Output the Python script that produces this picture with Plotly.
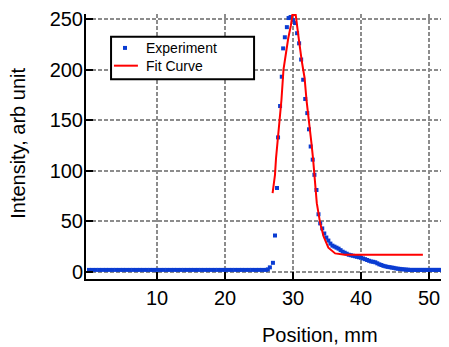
import plotly.graph_objects as go

# ---- data ----
base_x = [0.0, 0.5, 1.0, 1.5, 2.0, 2.5, 3.0, 3.5, 4.0, 4.5, 5.0, 5.5, 6.0, 6.5, 7.0, 7.5,
          8.0, 8.5, 9.0, 9.5, 10.0, 10.5, 11.0, 11.5, 12.0, 12.5, 13.0, 13.5, 14.0, 14.5,
          15.0, 15.5, 16.0, 16.5, 17.0, 17.5, 18.0, 18.5, 19.0, 19.5, 20.0, 20.5, 21.0,
          21.5, 22.0, 22.5, 23.0, 23.5, 24.0, 24.5, 25.0, 25.5, 26.0, 26.3, 26.6]
base_y = [2, 2, 2, 2, 2, 2, 2, 2, 2, 2, 2, 2, 2, 2, 2, 2,
          2, 2, 2, 2, 2, 2, 2, 2, 2, 2, 2, 2, 2, 2,
          2, 2, 2, 2, 2, 2, 2, 2, 2, 2, 2, 2, 2,
          2, 2, 2, 2, 2, 2, 2, 2, 2, 2, 2.5, 4.5]

peak_x = [27.05, 27.35, 27.65, 27.8, 28.1, 28.35, 28.55, 28.8, 29.1, 29.35, 29.65,
          30.0, 30.3, 30.6, 30.9, 31.2, 31.5, 31.8, 32.1, 32.35, 32.6, 32.9, 33.15,
          33.45, 33.75]
peak_y = [9, 36, 83, 133, 164, 193, 221, 232, 242, 251, 252,
          249, 246, 236, 226, 210, 190, 171, 157, 141, 124, 111, 96,
          81, 57]

tail_x = [34.0, 34.3, 34.6, 34.9, 35.2, 35.5, 35.8, 36.1, 36.4, 36.7, 37.0, 37.3,
          37.6, 37.9, 38.2, 38.5, 38.8, 39.1, 39.4, 39.7, 40.0, 40.3, 40.6, 40.9,
          41.2, 41.5, 41.8, 42.1, 42.4, 42.7, 43.0, 43.3, 43.6, 43.9, 44.2, 44.5,
          44.8, 45.1, 45.4, 45.7, 46.0, 46.3, 46.6, 46.9, 47.2, 47.5, 47.8, 48.1,
          48.4, 48.7, 49.0, 49.3, 49.6, 49.9, 50.2, 50.5, 50.8, 51.1, 51.4, 51.7,
          52.0, 52.3, 52.6, 52.9]
tail_y = [48, 43, 38, 34, 31, 28, 26, 25, 24, 23, 21.5, 20,
          19, 18, 17, 16.5, 16, 15.5, 15, 14.5, 14, 13.3, 12.6, 11.8,
          11, 10.3, 10, 9.5, 8.5, 7.5, 6.8, 6, 5.5, 5, 4.7, 4.3,
          4, 3.5, 3.2, 3, 2.7, 2.5, 2.3, 2.2, 2, 2, 2, 2,
          2, 2, 2, 2, 2, 2, 2, 2, 2, 2, 2, 2,
          2, 2, 2, 2]

fit_x = [27.0, 27.1, 27.35, 27.5, 27.8, 28.1, 28.3, 28.6, 28.9, 29.3, 29.7, 29.9,
         30.4, 30.6, 30.9, 31.3, 31.7, 32.0, 32.4, 32.7, 32.95, 33.2, 33.5, 34.0,
         34.5, 35.2, 36.2, 37.6, 49.1]
fit_y = [78, 83, 96, 112, 135, 151, 170, 200, 215, 231, 244, 254,
         254, 241, 228, 208, 192, 169, 148, 128, 112, 92, 68, 48,
         35, 24, 18.3, 17, 17]

exp_x = base_x + peak_x + tail_x
exp_y = base_y + peak_y + tail_y

x_ticks = [10, 20, 30, 40, 50]
y_ticks = [0, 50, 100, 150, 200, 250]
series_names = ["Experiment", "Fit Curve"]

FONT = "Liberation Sans, Arial, sans-serif"
BLUE = "#0a3cd2"
RED = "#ff0000"

fig = go.Figure()
fig.add_trace(go.Scatter(
    x=exp_x, y=exp_y, mode="markers", name=series_names[0], showlegend=False,
    marker=dict(symbol="square", size=4, color=BLUE, line=dict(width=0)),
))
fig.add_trace(go.Scatter(
    x=fit_x, y=fit_y, mode="lines", name=series_names[1], showlegend=False,
    line=dict(color=RED, width=2),
))

axis_common = dict(
    showline=True, linecolor="black", linewidth=2, mirror=False,
    ticks="inside", ticklen=7, tickwidth=2, tickcolor="black",
    showgrid=True, gridcolor="#8c8c8c", gridwidth=1.5, griddash="4px,2px",
    zeroline=False, ticklabeloverflow="allow",
    tickfont=dict(family=FONT, size=20, color="black"),
)

fig.update_xaxes(range=[-0.44, 52.94], tickvals=x_ticks,
                 ticktext=[str(v) for v in x_ticks],
                 **axis_common)
fig.update_yaxes(range=[-7, 255], tickvals=y_ticks,
                 ticktext=[str(v) for v in y_ticks], ticklabelstandoff=-3,
                 **axis_common)

# legend box drawn in paper coordinates (boxed legend as in the reference)
leg_x0, leg_x1, leg_y0, leg_y1 = 0.069, 0.463, 0.754, 0.914
row1_y, row2_y = 0.872, 0.805
shapes = [
    dict(type="rect", xref="paper", yref="paper", x0=leg_x0, x1=leg_x1,
         y0=leg_y0, y1=leg_y1, line=dict(color="black", width=2),
         fillcolor="white", layer="above"),
    dict(type="rect", xref="paper", yref="paper", x0=0.1019, x1=0.1129,
         y0=row1_y - 0.0075, y1=row1_y + 0.0075, line=dict(width=0),
         fillcolor=BLUE, layer="above"),
    dict(type="line", xref="paper", yref="paper", x0=0.077, x1=0.143,
         y0=row2_y, y1=row2_y, line=dict(color=RED, width=2), layer="above"),
]

fig.update_layout(
    width=441, height=339,
    margin=dict(l=78, r=0, t=3, b=68),
    plot_bgcolor="white", paper_bgcolor="white",
    font=dict(family=FONT, color="black"),
    showlegend=False,
    shapes=shapes,
    annotations=[
        dict(text=series_names[0], xref="paper", yref="paper",
             x=0.160, y=row1_y, showarrow=False, xanchor="left", yanchor="middle",
             font=dict(family=FONT, size=14, color="black")),
        dict(text=series_names[1], xref="paper", yref="paper",
             x=0.160, y=row2_y, showarrow=False, xanchor="left", yanchor="middle",
             font=dict(family=FONT, size=14, color="black")),
        dict(text="Intensity, arb unit", xref="paper", yref="paper",
             x=-0.186, y=0.512, textangle=-90, showarrow=False,
             xanchor="center", yanchor="middle",
             font=dict(family=FONT, size=20, color="black")),
        dict(text="Position, mm", xref="paper", yref="paper",
             x=0.645, y=-0.213, showarrow=False,
             xanchor="center", yanchor="middle",
             font=dict(family=FONT, size=20, color="black")),
    ],
)

fig.write_html("out.html")
